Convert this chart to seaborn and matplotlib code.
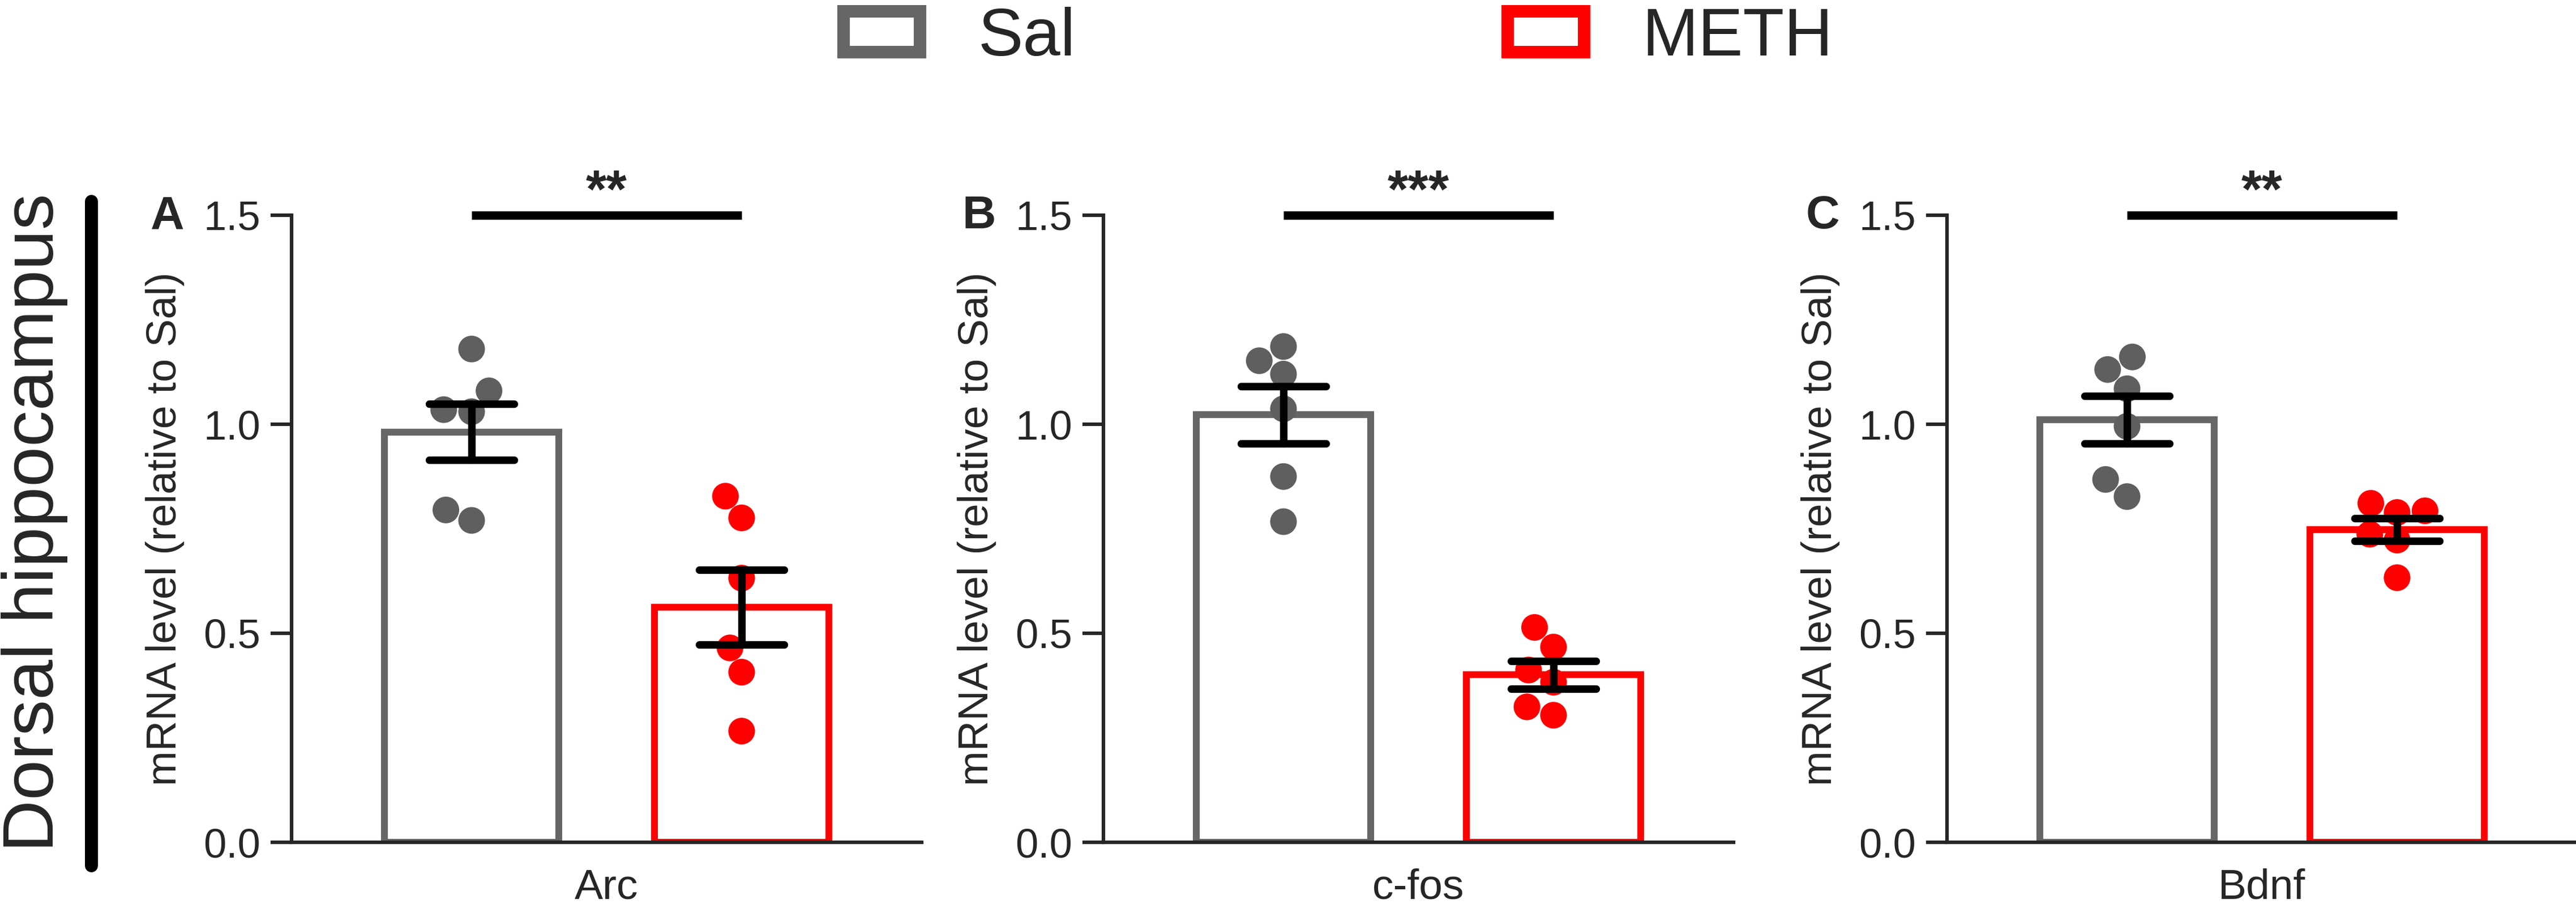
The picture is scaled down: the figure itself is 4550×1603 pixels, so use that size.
import pandas as pd
import matplotlib.pyplot as plt
from matplotlib.patches import Patch
from matplotlib.lines import Line2D
from matplotlib.ticker import FormatStrFormatter
import seaborn as sns


# values (relative mRNA level, n = 6 per group)
genes = ['Arc', 'c-fos', 'Bdnf']
groups = ['Sal', 'METH']
stars = ['**', '***', '**']
panel_letters = ['A', 'B', 'C']

arc_sal = [1.18, 1.08, 1.035, 1.03, 0.795, 0.77]
arc_meth = [0.828, 0.776, 0.632, 0.465, 0.407, 0.266]
cfos_sal = [1.186, 1.152, 1.120, 1.037, 0.875, 0.767]
cfos_meth = [0.514, 0.467, 0.412, 0.383, 0.324, 0.304]
bdnf_sal = [1.161, 1.131, 1.085, 0.995, 0.868, 0.827]
bdnf_meth = [0.811, 0.793, 0.789, 0.737, 0.723, 0.633]

y_ticks = [0.0, 0.5, 1.0, 1.5]

values = {
    'Arc': {'Sal': arc_sal, 'METH': arc_meth},
    'c-fos': {'Sal': cfos_sal, 'METH': cfos_meth},
    'Bdnf': {'Sal': bdnf_sal, 'METH': bdnf_meth},
}

rows = []
for g in genes:
    for grp in groups:
        for v in values[g][grp]:
            rows.append({'gene': g, 'group': grp, 'value': v})
df = pd.DataFrame(rows)

bar_colors = {'Sal': '#666666', 'METH': '#ff0000'}
dot_colors = {'Sal': '#5f5f5f', 'METH': '#ff0000'}

sns.set_style('ticks')
plt.rcParams['font.family'] = ['Liberation Sans', 'DejaVu Sans']

W, H = 4550, 1603
fig = plt.figure(figsize=(W / 300, H / 300), dpi=300)

ax_lefts = [515, 1949, 3439]
ax_w = 1113 / W
ax_bottom = (H - 1487) / H
ax_h = (1487 - 380) / H

for i, gene in enumerate(genes):
    ax = fig.add_axes([ax_lefts[i] / W, ax_bottom, ax_w, ax_h])
    d = df[df['gene'] == gene]

    sns.barplot(data=d, x='gene', y='value', hue='group', hue_order=groups,
                palette=bar_colors, fill=False, linewidth=2.9,
                width=0.8, gap=0.356, errorbar='se', capsize=0.25,
                err_kws={'color': 'black', 'linewidth': 3.2, 'zorder': 5},
                legend=False, ax=ax)
    sns.swarmplot(data=d, x='gene', y='value', hue='group', hue_order=groups,
                  palette=dot_colors, dodge=True, size=11.3, linewidth=0,
                  legend=False, zorder=3, ax=ax)

    ax.set_xlim(-0.4667, 0.4667)
    ax.set_ylim(0, 1.5)
    ax.set_yticks(y_ticks)
    ax.yaxis.set_major_formatter(FormatStrFormatter('%.1f'))
    ax.set_xlabel('')
    ax.set_ylabel('mRNA level (relative to Sal)', fontsize=17.8, labelpad=8)
    ax.tick_params(axis='y', length=8.9, width=1.5, labelsize=17.4, pad=4.3)
    ax.tick_params(axis='x', length=0, labelsize=18, pad=11)
    for s in ['top', 'right']:
        ax.spines[s].set_visible(False)
    for s in ['left', 'bottom']:
        ax.spines[s].set_linewidth(1.5)
        ax.spines[s].set_zorder(6)

    # significance bar between the two groups
    ax.plot([-0.2, 0.2], [1.5, 1.5], color='black', lw=3.6,
            solid_capstyle='butt', clip_on=False)
    ax.text(0, 1.52, stars[i], ha='center', va='baseline',
            fontsize=22.5, fontweight='bold')

    ax.text(-0.197, 0.979, panel_letters[i], transform=ax.transAxes,
            ha='center', va='baseline', fontsize=19.8, fontweight='bold')

# region label with the vertical bar
fig.text(61 / W, 1 - 923 / H, 'Dorsal hippocampus', rotation=90,
         ha='center', va='center', fontsize=30.6)
fig.add_artist(Line2D([161 / W, 161 / W], [1 - 355 / H, 1 - 1528 / H],
                      color='black', lw=5.5, solid_capstyle='round'))

handles = [Patch(facecolor='white', edgecolor=bar_colors[g], linewidth=5.3, label=g)
           for g in groups]
fig.legend(handles=handles, loc='center left', bbox_to_anchor=(1490 / W, 1 - 67.5 / H),
           ncol=2, frameon=False, fontsize=28.6, handlelength=1.134, handleheight=0.546,
           handletextpad=0.86, columnspacing=6.4, borderpad=0, borderaxespad=0)

fig.savefig('out.png', dpi=300)
